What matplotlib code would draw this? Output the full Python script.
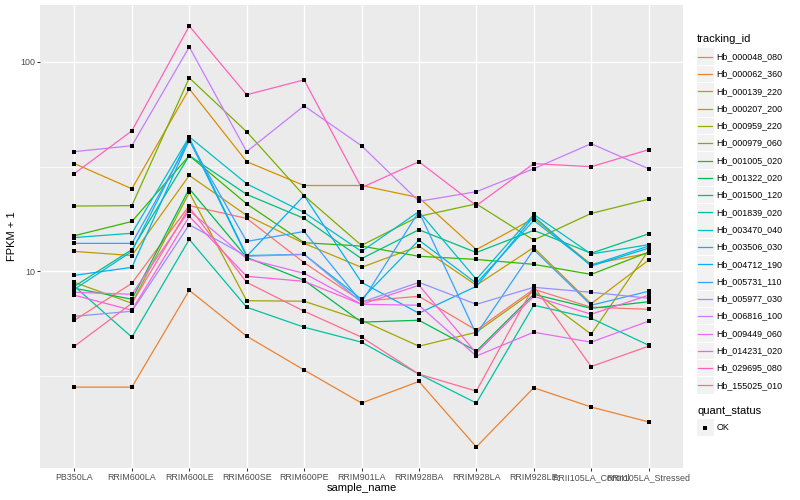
import numpy as np
import matplotlib
matplotlib.use("Agg")
import matplotlib.pyplot as plt
from matplotlib.patches import Rectangle
from matplotlib.lines import Line2D

plt.rcParams["font.family"] = ["Liberation Sans", "DejaVu Sans"]

samples = ["PB350LA", "RRIM600LA", "RRIM600LE", "RRIM600SE", "RRIM600PE",
           "RRIM901LA", "RRIM928BA", "RRIM928LA", "RRIM928LE",
           "RRII105LA_Control", "RRII105LA_Stressed"]

tracking_ids = ["Hb_000048_080", "Hb_000062_360", "Hb_000139_220", "Hb_000207_200",
                "Hb_000959_220", "Hb_000979_060", "Hb_001005_020", "Hb_001322_020",
                "Hb_001500_120", "Hb_001839_020", "Hb_003470_040", "Hb_003506_030",
                "Hb_004712_190", "Hb_005731_110", "Hb_005977_030", "Hb_006816_100",
                "Hb_009449_060", "Hb_014231_020", "Hb_029695_080", "Hb_155025_010"]

colors = ["#F8766D", "#EA8331", "#D89000", "#C09B00", "#A3A500", "#7CAE00",
          "#39B600", "#00BB4E", "#00BF7D", "#00C1A3", "#00BFC4", "#00BAE0",
          "#00B0F6", "#35A2FF", "#9590FF", "#C77CFF", "#E76BF3", "#FA62DB",
          "#FF62BC", "#FF6C91"]

# FPKM + 1 per sample (order of `samples`)
hb_000048_080 = [5.84, 8.77, 20.6, 17.9, 11.0, 7.20, 7.60, 5.24, 8.21, 6.74, 6.59]
hb_000062_360 = [2.80, 2.80, 8.12, 4.90, 3.38, 2.35, 2.98, 1.45, 2.78, 2.25, 1.91]
hb_000139_220 = [32.7, 24.8, 74.4, 33.4, 25.7, 25.7, 22.5, 12.7, 17.9, 10.8, 12.2]
hb_000207_200 = [12.45, 11.9, 28.7, 18.5, 13.6, 10.45, 13.2, 8.58, 13.0, 7.0, 11.3]
hb_000959_220 = [8.86, 7.04, 23.8, 7.24, 7.20, 5.84, 4.39, 5.12, 8.03, 5.01, 12.6]
hb_000979_060 = [20.5, 20.6, 83.9, 46.4, 23.0, 13.3, 18.3, 21.0, 14.1, 18.9, 22.1]
hb_001005_020 = [14.8, 17.3, 35.7, 21.0, 13.7, 13.2, 11.8, 11.4, 10.8, 9.67, 12.35]
hb_001322_020 = [8.30, 7.36, 24.8, 11.66, 9.06, 5.72, 5.84, 4.16, 7.77, 6.66, 7.16]
hb_001500_120 = [8.48, 12.7, 35.7, 23.3, 17.9, 11.5, 15.8, 12.3, 15.7, 12.2, 15.1]
hb_001839_020 = [8.48, 4.85, 14.2, 6.74, 5.41, 4.59, 3.23, 2.35, 6.89, 5.97, 4.44]
hb_003470_040 = [14.5, 15.2, 43.9, 26.2, 19.1, 12.45, 19.3, 9.16, 18.7, 12.1, 13.4]
hb_003506_030 = [8.21, 12.45, 43.5, 11.9, 12.05, 7.36, 14.1, 8.77, 17.5, 10.7, 13.2]
hb_004712_190 = [9.57, 10.45, 42.5, 11.8, 23.0, 8.86, 6.31, 8.48, 18.3, 10.6, 12.9]
hb_005731_110 = [13.6, 13.6, 42.1, 13.9, 15.5, 7.12, 19.3, 5.01, 12.7, 6.89, 8.03]
hb_005977_030 = [6.10, 6.45, 16.7, 11.8, 12.05, 7.12, 8.86, 6.96, 8.39, 7.94, 7.44]
hb_006816_100 = [37.3, 39.8, 117.9, 37.3, 61.7, 39.8, 21.6, 24.0, 30.9, 40.7, 30.9]
hb_009449_060 = [7.94, 7.77, 19.5, 11.5, 9.78, 6.96, 6.89, 3.94, 5.12, 4.59, 5.78]
hb_014231_020 = [7.69, 6.52, 18.3, 9.47, 8.96, 6.96, 8.58, 4.07, 7.60, 6.24, 7.69]
hb_029695_080 = [29.3, 46.9, 148.4, 69.7, 82.1, 25.1, 33.4, 20.6, 32.7, 31.6, 38.1]
hb_155025_010 = [4.39, 7.04, 20.2, 8.86, 6.45, 4.85, 3.23, 2.68, 8.48, 3.51, 4.39]

series = [hb_000048_080, hb_000062_360, hb_000139_220, hb_000207_200, hb_000959_220,
          hb_000979_060, hb_001005_020, hb_001322_020, hb_001500_120, hb_001839_020,
          hb_003470_040, hb_003506_030, hb_004712_190, hb_005731_110, hb_005977_030,
          hb_006816_100, hb_009449_060, hb_014231_020, hb_029695_080, hb_155025_010]

W, H = 800, 500
fig = plt.figure(figsize=(8, 5), dpi=100, facecolor="white")
px = lambda x: x / W
py = lambda y: 1 - y / H

L, R, T, B = 40, 683, 5, 468
ax = fig.add_axes([px(L), py(B), px(R - L), (B - T) / H])
ax.set_facecolor("#EBEBEB")
for s in ax.spines.values():
    s.set_visible(False)

x = np.arange(1, len(samples) + 1)
for vals, col in zip(series, colors):
    ax.plot(x, vals, color=col, lw=0.9, zorder=3, solid_capstyle="butt")
for vals in series:
    ax.plot(x, vals, ls="none", marker="s", ms=2.6, mfc="black", mec="black",
            mew=0, zorder=4)

ax.set_yscale("log")
allv = np.log10(np.concatenate([np.asarray(v) for v in series]))
lo, hi = allv.min(), allv.max()
pad = 0.05 * (hi - lo)
ax.set_ylim(10 ** (lo - pad), 10 ** (hi + pad))
ax.set_xlim(0.4, len(samples) + 0.6)

ax.set_yticks([10, 100])
ax.set_yticklabels(["10", "100"])
ax.set_yticks([10 ** 0.5, 10 ** 1.5], minor=True)
ax.yaxis.set_minor_formatter(matplotlib.ticker.NullFormatter())
ax.set_xticks(x)
ax.set_xticklabels(samples)

ax.grid(which="major", color="white", lw=1.0, zorder=0)
ax.grid(which="minor", axis="y", color="white", lw=0.5, zorder=0)
ax.set_axisbelow(True)
ax.tick_params(which="major", length=2.0, width=0.75, color="#333333",
               labelsize=6.4, labelcolor="#4D4D4D", pad=1.6)
ax.tick_params(which="minor", length=0)

fig.text(px(12), py((T + B) / 2), "FPKM + 1", rotation=90, ha="center",
         va="center", fontsize=8, color="black")
fig.text(px((L + R) / 2), py(488), "sample_name", ha="center", va="center",
         fontsize=8, color="black")

# legend: tracking_id
lx0, kw = 696.5, 17.3
fig.text(px(697), py(39), "tracking_id", ha="left", va="center", fontsize=8)
y0 = 56.7
for i, (name, col) in enumerate(zip(tracking_ids, colors)):
    cy = y0 + i * 17.3
    fig.patches.append(Rectangle((px(lx0), py(cy + kw / 2 - 0.4)), kw / W, (kw - 0.8) / H,
                                 transform=fig.transFigure, facecolor="#F2F2F2",
                                 edgecolor="none"))
    fig.lines.append(Line2D([px(lx0 + 1.7), px(lx0 + kw - 1.7)], [py(cy), py(cy)],
                            transform=fig.transFigure, color=col, lw=0.9))
    fig.text(px(716.5), py(cy), name, ha="left", va="center", fontsize=6.4,
             color="black")

# legend: quant_status
fig.text(px(697), py(411.5), "quant_status", ha="left", va="center", fontsize=8)
qy = 427.7
fig.patches.append(Rectangle((px(lx0), py(qy + kw / 2 - 0.4)), kw / W, (kw - 0.8) / H,
                             transform=fig.transFigure, facecolor="#F2F2F2",
                             edgecolor="none"))
fig.lines.append(Line2D([px(lx0 + kw / 2)], [py(qy)], transform=fig.transFigure,
                        ls="none", marker="s", ms=2.6, mfc="black", mec="black", mew=0))
fig.text(px(716.5), py(qy), "OK", ha="left", va="center", fontsize=6.4)

fig.savefig("out.png", dpi=100, facecolor="white")
